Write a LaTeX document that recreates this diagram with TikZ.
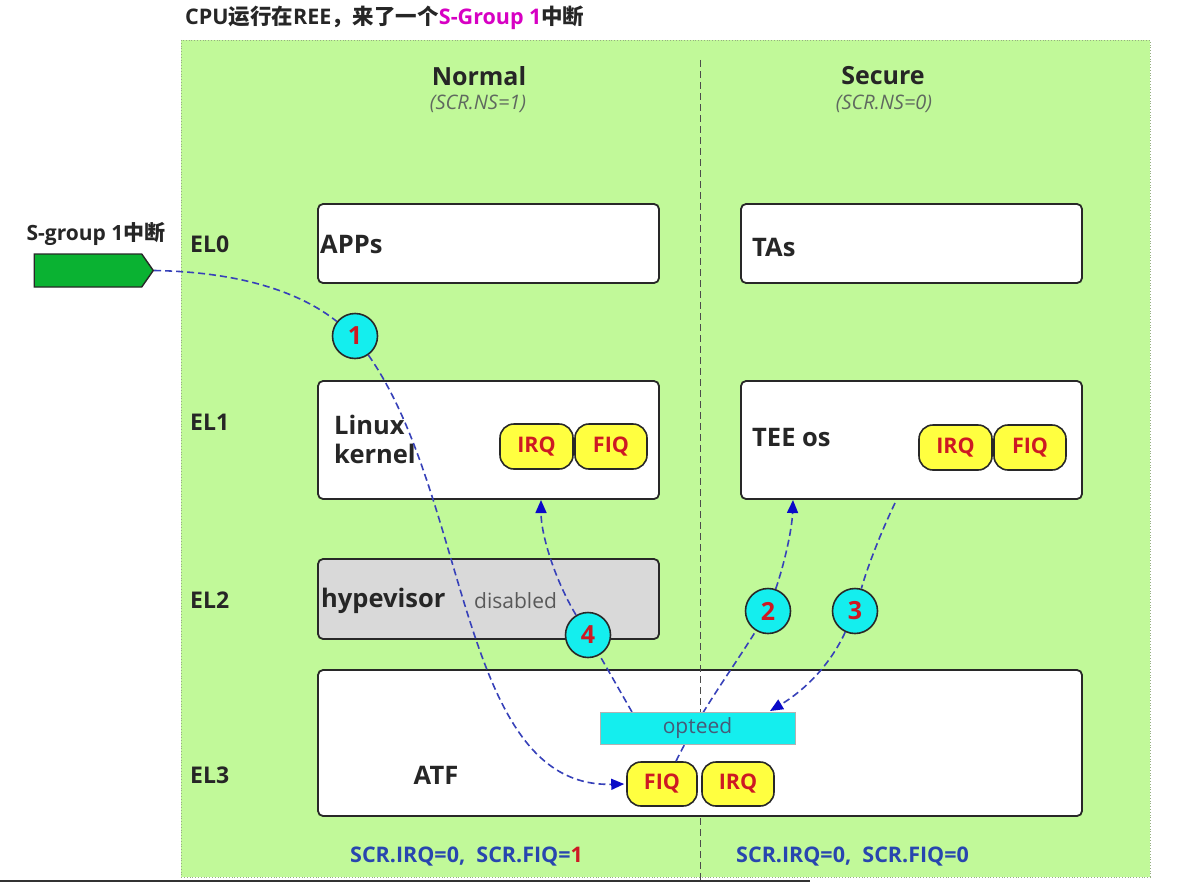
\documentclass[tikz,border=0pt]{standalone}
\usepackage{fontspec}
\setmainfont{Open Sans}
\newfontfamily\cjk{Noto Sans CJK SC}
\usetikzlibrary{shapes.geometric,shapes.symbols,arrows.meta,calc}
\definecolor{bggreen}{RGB}{193,249,153}
\definecolor{bgborder}{RGB}{150,175,130}
\definecolor{pillyel}{RGB}{255,255,64}
\definecolor{cyanf}{RGB}{20,238,238}
\definecolor{sgreen}{RGB}{10,178,50}
\definecolor{flow}{RGB}{55,65,185}
\definecolor{tipblue}{RGB}{10,10,200}
\definecolor{numred}{RGB}{205,25,35}
\definecolor{scrblue}{RGB}{40,70,175}
\definecolor{magt}{RGB}{215,0,195}
\definecolor{boxline}{RGB}{40,40,40}
\definecolor{hypgrey}{RGB}{217,217,217}
\definecolor{optext}{RGB}{70,90,120}
\definecolor{nsgrey}{RGB}{95,105,95}
\tikzset{
  box/.style={draw=boxline, line width=1.8pt, rounded corners=5pt, fill=white, inner sep=0pt},
  pill/.style={draw=boxline, line width=1.6pt, rounded corners=14pt, fill=pillyel, inner sep=0pt,
    text=numred, font=\bfseries\fontsize{21.5}{23}\selectfont},
  num/.style={circle, draw=boxline, line width=1.6pt, fill=cyanf, minimum size=45pt, inner sep=0pt,
    text=numred, font=\bfseries\fontsize{25}{27}\selectfont},
  lbl/.style={font=\bfseries\fontsize{25.5}{29}\selectfont, text=black!85, inner sep=0pt},
  el/.style={font=\bfseries\fontsize{23}{26}\selectfont, text=black!85, inner sep=0pt},
  flowline/.style={draw=flow, line width=1.6pt, dash pattern=on 7pt off 4pt},
  tip/.style={-{Triangle[length=13pt,width=11pt,fill=tipblue,color=tipblue]}},
  scr/.style={font=\bfseries\fontsize{21.5}{24}\selectfont, text=scrblue, inner sep=0pt},
  head/.style={font=\bfseries\fontsize{25}{28}\selectfont, text=black!85, inner sep=0pt},
  nsl/.style={font=\itshape\fontsize{20}{23}\selectfont, text=nsgrey, inner sep=0pt},
}
\begin{document}
\begin{tikzpicture}[x=1pt,y=-1pt]
\useasboundingbox (0,0) rectangle (1185,883);
\fill[white] (0,0) rectangle (1185,883);
% background panel
\draw[fill=bggreen, draw=bgborder, dotted, line width=0.8pt] (181,40) rectangle (1150,877);
% title
\node[anchor=west, inner sep=0pt, font=\bfseries\fontsize{21.5}{24}\selectfont, text=black!85] (title) at (185,18)
  {CPU{\cjk 运行在}REE{\cjk ，来了一个}\textcolor{magt}{S-Group 1}{\cjk 中断}};
% divider
\coordinate (dvtop) at (700,60);
\coordinate (dvmid) at (700,712);
\coordinate (dvlow) at (700,818);
\coordinate (dvbot) at (700,883);
% column headings
\node[head] (normal) at (479,76) {Normal};
\node[nsl] (nsn) at (478,104) {(SCR.NS=1)};
\node[head] (secure) at (883,76) {Secure};
\node[nsl] (nss) at (884,104) {(SCR.NS=0)};
% EL labels
\node[el, anchor=west] (el0) at (190,244) {EL0};
\node[el, anchor=west] (el1) at (190,422) {EL1};
\node[el, anchor=west] (el2) at (190,600) {EL2};
\node[el, anchor=west] (el3) at (190,775) {EL3};
% EL0
\node[box, minimum width=341pt, minimum height=79pt] (apps) at (488.5,243.5) {};
\node[lbl, anchor=west] (appst) at (320,244) {APPs};
\node[box, minimum width=341pt, minimum height=79pt] (tas) at (911.5,243.5) {};
\node[lbl, anchor=west] (tast) at (752,247) {TAs};
% EL1
\node[box, minimum width=341pt, minimum height=118pt] (linux) at (488.5,440) {};
\node[lbl, anchor=west, align=left] (linuxt) at (334,439) {Linux\\kernel};
\node[pill, minimum width=73pt, minimum height=45pt] (irq1) at (536.5,446.5) {IRQ};
\node[pill, minimum width=72pt, minimum height=45pt] (fiq1) at (611,446.5) {FIQ};
\node[box, minimum width=341pt, minimum height=118pt] (tee) at (911.5,440) {};
\node[lbl, anchor=west] (teet) at (752,438) {TEE os};
\node[pill, minimum width=73pt, minimum height=45pt] (irq2) at (955.5,447.5) {IRQ};
\node[pill, minimum width=72pt, minimum height=45pt] (fiq2) at (1030,447.5) {FIQ};
% EL2
\node[box, fill=hypgrey, minimum width=341pt, minimum height=80pt] (hyp) at (488.5,599) {};
\node[lbl, anchor=west] (hypt) at (321,601) {hypevisor};
\node[anchor=west, inner sep=0pt, font=\fontsize{21}{23}\selectfont, text=black!65] (dis) at (474,601) {disabled};
% EL3
\node[box, minimum width=764pt, minimum height=146pt] (atf) at (700,743) {};
\node[lbl] (atft) at (436,775) {ATF};
\draw[black!70, line width=1pt, dash pattern=on 7pt off 4pt] (dvtop) -- (dvmid);
\draw[black!70, line width=1pt, dash pattern=on 7pt off 4pt] (dvlow) -- (dvbot);
\node[pill, minimum width=70pt, minimum height=44pt] (fiq3) at (662,784) {FIQ};
\node[pill, minimum width=72pt, minimum height=44pt] (irq3) at (738,784) {IRQ};
% S-group source
\node[anchor=center, inner sep=0pt, font=\bfseries\fontsize{21}{23}\selectfont, text=black!85] (sgt) at (96,234) {S-group 1{\cjk 中断}};
\node[shape=signal, signal to=east, signal pointer angle=110, draw=boxline, line width=1.4pt, fill=sgreen,
  minimum width=119pt, minimum height=33pt, inner sep=0pt] (sg) at (88,270.5) {};
% circles
\node[num] (c1) at (355,336) {1};
\node[num] (c4) at (588,635) {4};
\node[num] (c2) at (768,611) {2};
\node[num] (c3) at (855,611) {3};
% flows
\coordinate (fiqtop) at ($(fiq3.north)+(14,0)$);
\coordinate (optop4) at (632,712);
\coordinate (linuxin) at (541,500);
\coordinate (teein) at (793,500);
\coordinate (teeout) at (895,503);
\coordinate (optop3) at (770,711);
\draw[flowline] (sg.east) .. controls (240,272) and (300,292) .. (c1);
\draw[flowline, tip] (c1) .. controls (470,500) and (460,788) .. ($(fiq3.west)+(-2,0)$);
\draw[flowline] (fiqtop) .. controls (700,712) and (735,665) .. (c2);
\draw[flowline, tip] (c2) .. controls (784,565) and (792,530) .. (teein);
\draw[flowline] (teeout) .. controls (882,530) and (868,565) .. (c3);
\draw[flowline, tip] (c3) .. controls (830,665) and (805,690) .. (optop3);
\draw[flowline] (optop4) -- (c4);
\draw[flowline, tip] (c4) .. controls (555,580) and (541,535) .. (linuxin);
% opteed
\node[draw=black!30, line width=0.8pt, fill=cyanf, minimum width=195pt, minimum height=32pt, inner sep=0pt,
  text=optext, font=\fontsize{21}{23}\selectfont] (opteed) at (697.5,728) {opteed};
% bottom status
\node[scr, anchor=west] (scrn) at (350,857) {SCR.IRQ=0,\ \ SCR.FIQ=\textcolor{numred}{1}};
\node[scr, anchor=west] (scrs) at (736,857) {SCR.IRQ=0,\ \ SCR.FIQ=0};
% screenshot edge line
\coordinate (edgeL) at (0,881);
\coordinate (edgeR) at (810,881);
\draw[black!80, line width=1.5pt] (edgeL) -- (edgeR);
\end{tikzpicture}
\end{document}
